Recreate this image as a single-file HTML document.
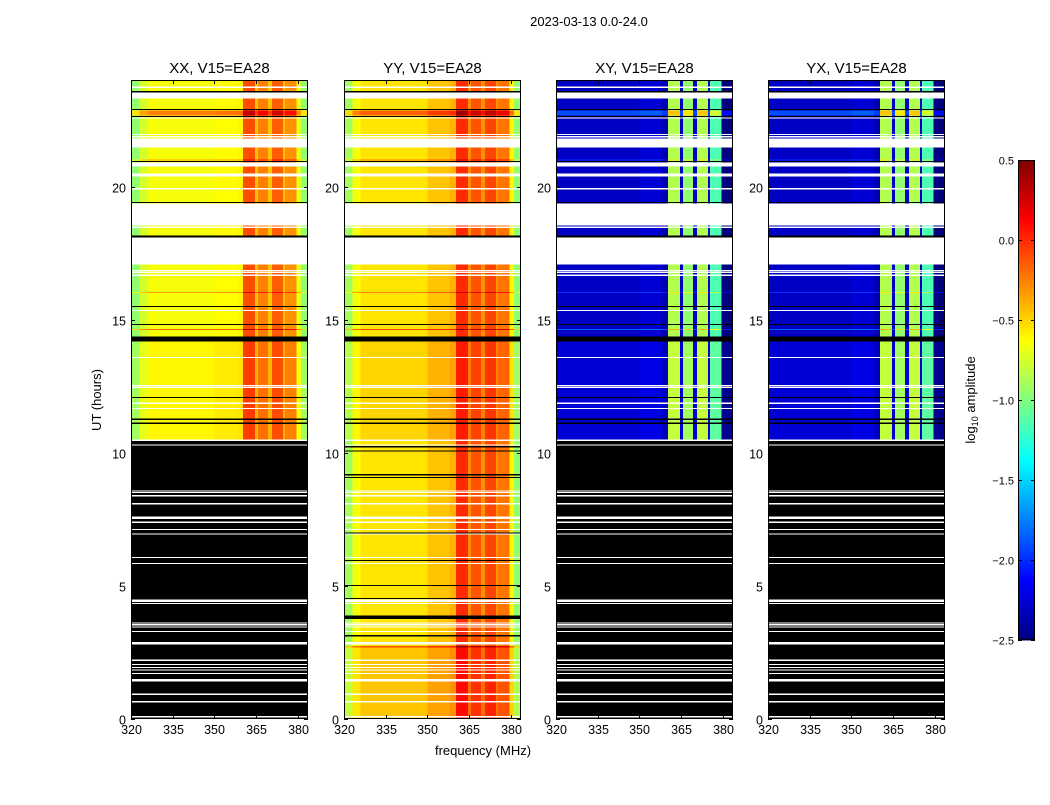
<!DOCTYPE html>
<html><head><meta charset="utf-8"><style>
body{margin:0;background:#fff;font-family:"Liberation Sans",sans-serif}
svg text{font-family:"Liberation Sans",sans-serif;fill:#000}
</style></head><body>
<svg id="fig" width="1050" height="800" xmlns="http://www.w3.org/2000/svg" shape-rendering="crispEdges">
<rect width="1050" height="800" fill="#fff"/>
<text x="589" y="26" font-size="13" text-anchor="middle">2023-03-13 0.0-24.0</text>
<text x="483" y="755" font-size="13" text-anchor="middle">frequency (MHz)</text>
<text transform="translate(101,400) rotate(-90)" font-size="13" text-anchor="middle">UT (hours)</text>
<text transform="translate(975,400) rotate(-90)" font-size="13" text-anchor="middle">log<tspan font-size="9" dy="3">10</tspan><tspan dy="-3"> amplitude</tspan></text>
<g id="panels"></g>
<g id="cbar"></g>
</svg>
<script>
const pols = ["XX, V15=EA28","YY, V15=EA28","XY, V15=EA28","YX, V15=EA28"];
const freqEdges = [320,323,326,350,358,360.3,364.6,365.7,369.3,370.7,374.7,375.4,379.4,381,383.6];
const bandXX = [-0.95,-0.75,-0.65,-0.62,-0.6,-0.1,-0.45,-0.25,-0.45,-0.15,-0.45,-0.3,-0.7,-0.95];
const bandYY = [-0.9,-0.65,-0.55,-0.45,-0.4,0.0,-0.3,-0.12,-0.3,-0.08,-0.3,-0.22,-0.6,-0.95];
const bandXY = [-2.3,-2.3,-2.3,-2.25,-2.35,-0.85,-2.3,-0.95,-2.3,-0.85,-2.3,-1.15,-2.5,-2.5];
const bandYX = [-2.3,-2.3,-2.3,-2.25,-2.35,-0.85,-2.3,-0.95,-2.3,-0.85,-2.3,-1.15,-2.5,-2.5];
const maskBelow = [10.45,0,10.45,10.45];
const rowLevels = [[0,2.68,0.1],[2.68,2.74,0.45],[2.74,10.45,0],[10.45,14.2,0.05],[14.2,24,0],[14.61,14.65,0.45],[16.0,16.04,0.3],[20.98,21.02,0.3],[22.66,22.85,0.4]];
const blackGaps = [[23.54,23.58],[22.87,22.91],[22.61,22.65],[20.92,20.96],[19.38,19.42],[18.09,18.16],[15.48,15.52],[14.8,14.84],[14.18,14.37],[12.06,12.1],[11.24,11.28],[11.09,11.13],[10.2,10.25],[10.05,10.09],[9.16,9.2],[9.05,9.09],[6.97,7.01],[5.93,5.97],[5.0,5.04],[4.51,4.55],[3.76,3.89],[3.11,3.15]];
const whiteGaps = [[23.7,23.75],[23.3,23.53],[22.55,22.6],[21.95,21.97],[21.87,21.89],[21.46,21.8],[20.75,20.9],[20.38,20.49],[19.92,19.94],[18.54,19.36],[18.45,18.5],[17.07,18.09],[16.83,16.87],[16.77,16.8],[16.64,16.69],[15.33,15.37],[13.56,13.6],[12.51,12.55],[12.44,12.48],[11.84,11.88],[11.65,11.69],[10.45,10.5],[10.28,10.31],[8.55,8.59],[8.5,8.53],[8.37,8.41],[8.07,8.11],[7.57,7.61],[7.52,7.56],[7.37,7.41],[7.1,7.14],[6.93,6.97],[6.05,6.09],[5.82,5.86],[4.39,4.49],[4.32,4.36],[3.59,3.63],[3.52,3.56],[3.44,3.48],[3.27,3.31],[2.86,2.9],[2.81,2.85],[2.19,2.23],[2.03,2.07],[1.92,1.96],[1.82,1.86],[1.69,1.73],[1.47,1.51],[1.42,1.46],[0.91,0.95],[0.63,0.67],[0.07,0.11]];
const xTicks = [320,335,350,365,380];
const yTicks = [0,5,10,15,20];
const cbTicks = [0.5,0.0,-0.5,-1.0,-1.5,-2.0,-2.5];
const bands = [bandXX,bandYY,bandXY,bandYX];

const NS="http://www.w3.org/2000/svg";
const lefts=[131,344,556,768], W=177, TOP=80, BOT=719;
const fmin=320,fmax=383.6,hmin=0,hmax=24,vmin=-2.5,vmax=0.5;
function jet(v){let t=Math.max(0,Math.min(1,(v-vmin)/(vmax-vmin)));
 const f=(x)=>Math.max(0,Math.min(1,1.5-Math.abs(4*t-x)));
 return `rgb(${Math.round(255*f(3))},${Math.round(255*f(2))},${Math.round(255*f(1))})`;}
function mk(tag,attrs,parent){const e=document.createElementNS(NS,tag);for(const k in attrs)e.setAttribute(k,attrs[k]);parent.appendChild(e);return e;}
const yS=h=>BOT-(h-hmin)/(hmax-hmin)*(BOT-TOP);
const panelsG=document.getElementById('panels');
pols.forEach((p,pi)=>{
 const L=lefts[pi];const xS=f=>L+(f-fmin)/(fmax-fmin)*W;
 const g=mk('g',{},panelsG);
 
 
 rowLevels.forEach(r=>{
  for(let c=0;c<bands[pi].length;c++){
   const x0=xS(freqEdges[c]),x1=xS(freqEdges[c+1]);const y0=yS(r[1]),y1=yS(r[0]);
   const e=mk('rect',{x:x0,y:y0,width:x1-x0,height:Math.max(1,y1-y0),fill:jet(bands[pi][c]+r[2])},g);
   
   
  }});
 if(maskBelow[pi]>0){const e=mk('rect',{x:L,y:yS(maskBelow[pi]),width:W,height:BOT-yS(maskBelow[pi]),fill:'#000'},g);
  
  }
 blackGaps.forEach(b=>{const e=mk('rect',{x:L,y:yS(b[1]),width:W,height:Math.max(1.2,yS(b[0])-yS(b[1])),fill:'#000'},g);
  
  });
 whiteGaps.forEach(b=>{const e=mk('rect',{x:L,y:yS(b[1]),width:W,height:Math.max(1.2,yS(b[0])-yS(b[1])),fill:'#fff'},g);
  
  });
 const fr=mk('rect',{x:L+0.5,y:TOP+0.5,width:W-1,height:BOT-TOP-1,fill:'none',stroke:'#000','stroke-width':1},g);
 
 
 const t=mk('text',{x:L+W/2,y:73,'font-size':15,'text-anchor':'middle'},g);t.textContent=p;
 
 
 xTicks.forEach(v=>{const x=Math.round(xS(v))+0.5;
  mk('line',{x1:x,x2:x,y1:BOT,y2:BOT-4,stroke:'#000'},g);mk('line',{x1:x,x2:x,y1:TOP,y2:TOP+4,stroke:'#000'},g);
  const tt=mk('text',{x:x,y:BOT+15,'font-size':12.5,'text-anchor':'middle'},g);tt.textContent=v;
  
  });
 yTicks.forEach(v=>{const y=Math.round(yS(v))+0.5;
  mk('line',{x1:L,x2:L+4,y1:y,y2:y,stroke:'#000'},g);mk('line',{x1:L+W-4,x2:L+W,y1:y,y2:y,stroke:'#000'},g);
  const tt=mk('text',{x:L-5,y:y+5,'font-size':12.5,'text-anchor':'end'},g);tt.textContent=v;
  
  });
});
const cb=document.getElementById('cbar');


const CT=160,CB=640,CL=1018,CW=17;const cy=v=>CB-(v-vmin)/(vmax-vmin)*(CB-CT);
for(let i=0;i<120;i++){const v0=vmin+i*(vmax-vmin)/120,v1=vmin+(i+1)*(vmax-vmin)/120;
 mk('rect',{x:CL,y:cy(v1),width:CW,height:cy(v0)-cy(v1)+0.5,fill:jet((v0+v1)/2)},cb);}
mk('rect',{x:CL+0.5,y:CT+0.5,width:CW-1,height:CB-CT-1,fill:'none',stroke:'#000'},cb);
cbTicks.forEach(v=>{const y=Math.round(cy(v))+0.5;mk('line',{x1:CL,x2:CL+4,y1:y,y2:y,stroke:'#000'},cb);mk('line',{x1:CL+CW-4,x2:CL+CW,y1:y,y2:y,stroke:'#000'},cb);
 const t=mk('text',{x:CL-4,y:y+4,'font-size':11,'text-anchor':'end'},cb);t.textContent=(v<0?'\u2212':'')+Math.abs(v).toFixed(1);
 
 });
</script>
</body></html>
